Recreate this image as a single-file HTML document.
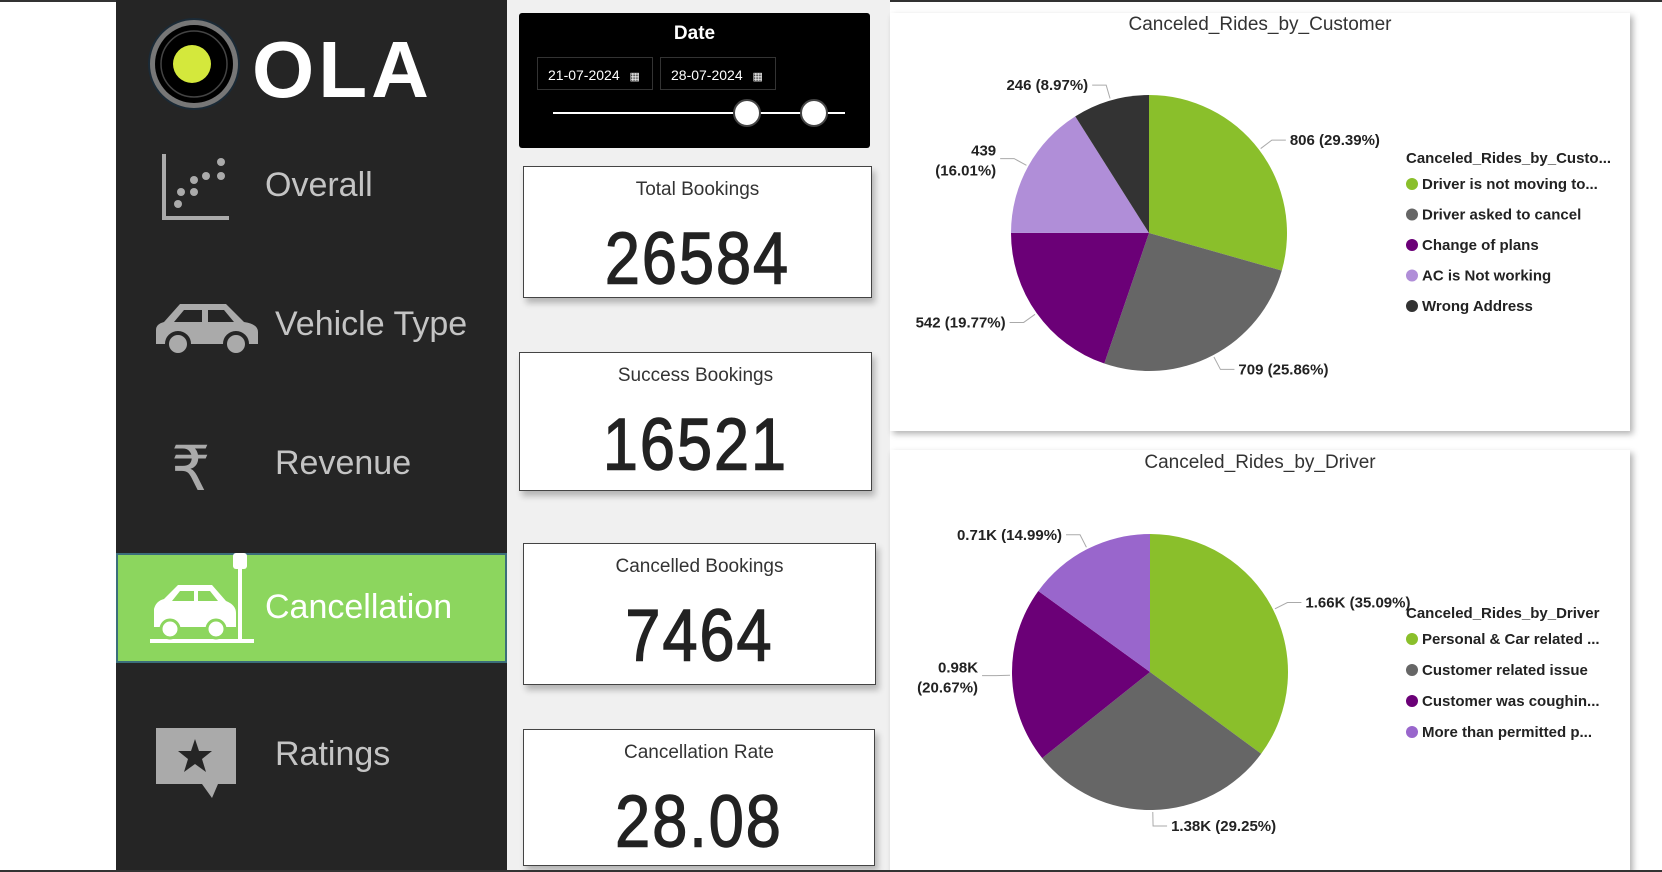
<!DOCTYPE html>
<html><head><meta charset="utf-8">
<style>
*{margin:0;padding:0;box-sizing:border-box}
body{width:1662px;height:872px;background:#fff;font-family:"Liberation Sans",sans-serif;position:relative;overflow:hidden}
.abs{position:absolute}
#sidebar{left:116px;top:0;width:391px;height:872px;background:#252525}
.nav{position:absolute;color:#c4c4c4;font-size:34px;white-space:nowrap}
#mid{left:507px;top:0;width:383px;height:872px;background:#f0f0f0}
.card{position:absolute;background:#fff;border:1px solid #444;box-shadow:3px 5px 6px rgba(0,0,0,.25);text-align:center}
.card .t{font-size:19px;color:#333;margin-top:12px}
.card .v{display:inline-block;font-size:63px;color:#222;letter-spacing:2px;margin-top:22px;transform:scaleY(1.17);-webkit-text-stroke:1.2px #222}
.chartcard{position:absolute;left:890px;width:740px;background:#fff;box-shadow:3px 3px 6px rgba(0,0,0,.3)}
.ctitle{position:absolute;width:100%;text-align:center;font-size:19px;color:#333}
</style></head><body>
<div class="abs" style="left:0;top:0;width:1662px;height:2px;background:#333"></div>
<div id="sidebar" class="abs">
  <svg class="abs" style="left:32px;top:18px" width="96" height="96">
    <circle cx="46" cy="46" r="45" fill="#777" stroke="#1b2a36" stroke-width="2"/>
    <circle cx="46" cy="46" r="39" fill="#000"/>
    <circle cx="46" cy="46" r="33" fill="none" stroke="#444" stroke-width="1.5"/>
    <circle cx="44" cy="46" r="19" fill="#d4e83c"/>
  </svg>
  <div class="abs" style="left:136px;top:24px;font-size:80px;font-weight:bold;color:#fff;letter-spacing:4px">OLA</div>

  <svg class="abs" style="left:45px;top:152px" width="70" height="70">
    <path d="M3 2V66H68" fill="none" stroke="#aaa" stroke-width="4"/>
    <g fill="#aaa"><circle cx="17" cy="52" r="4"/><circle cx="20" cy="40" r="4"/><circle cx="33" cy="40" r="4"/><circle cx="33" cy="28" r="4"/><circle cx="45" cy="24" r="4"/><circle cx="60" cy="24" r="4"/><circle cx="60" cy="10" r="4"/></g>
  </svg>
  <div class="nav" style="left:149px;top:166px">Overall</div>

  <svg class="abs" style="left:36px;top:300px" width="110" height="58">
    <path d="M4 44V30Q4 24 12 22L28 4H74L92 22Q106 24 106 32V44Z" fill="#aaa"/>
    <path d="M32 10H50V22H22Z M56 10H72L82 22H56Z" fill="#252525"/>
    <circle cx="26" cy="44" r="11" fill="#aaa" stroke="#252525" stroke-width="4"/>
    <circle cx="84" cy="44" r="11" fill="#aaa" stroke="#252525" stroke-width="4"/>
  </svg>
  <div class="nav" style="left:159px;top:305px">Vehicle Type</div>

  <div class="abs" style="left:55px;top:432px;font-size:62px;color:#aaa">₹</div>
  <div class="nav" style="left:159px;top:444px">Revenue</div>

  <div class="abs" style="left:0;top:553px;width:391px;height:110px;background:#8cd65e;border:2px solid #3b6e7a">
    <svg class="abs" style="left:32px;top:-4px" width="110" height="108">
      <rect x="0" y="88" width="104" height="4" fill="#fff"/>
      <rect x="88" y="14" width="4" height="76" fill="#fff"/>
      <rect x="83" y="2" width="14" height="16" rx="3" fill="#fff"/>
      <path d="M4 76V58Q6 50 14 48L28 34H62L76 50Q86 54 86 62V76Z" fill="#fff"/>
      <circle cx="20" cy="78" r="9" fill="#fff" stroke="#8cd65e" stroke-width="3"/>
      <circle cx="66" cy="78" r="9" fill="#fff" stroke="#8cd65e" stroke-width="3"/>
      <path d="M30 40H44V50H22Z M48 40H60L68 50H48Z" fill="#8cd65e"/>
    </svg>
    <div class="nav" style="left:147px;top:33px;color:#fff">Cancellation</div>
  </div>

  <svg class="abs" style="left:38px;top:726px" width="84" height="74">
    <path d="M2 2H82V58H64L58 72L48 58H2Z" fill="#aaa"/>
    <polygon points="41,13 45,25 58,25 48,33 52,46 41,38 30,46 34,33 24,25 37,25" fill="#252525"/>
  </svg>
  <div class="nav" style="left:159px;top:735px">Ratings</div>
</div>

<div id="mid" class="abs"></div>

<div class="abs" style="left:519px;top:13px;width:351px;height:135px;background:#000;border-radius:3px">
  <div class="abs" style="width:100%;text-align:center;top:10px;color:#fff;font-size:19px;font-weight:bold">Date</div>
  <div class="abs" style="left:18px;top:44px;width:116px;height:33px;border:1px solid #333;color:#fff;font-size:14px;padding:9px 0 0 10px">21-07-2024 <span style="font-size:11px;margin-left:6px">▦</span></div>
  <div class="abs" style="left:141px;top:44px;width:116px;height:33px;border:1px solid #333;color:#fff;font-size:14px;padding:9px 0 0 10px">28-07-2024 <span style="font-size:11px;margin-left:6px">▦</span></div>
  <div class="abs" style="left:34px;top:99px;width:292px;height:2px;background:#fff"></div>
  <div class="abs" style="left:214px;top:86px;width:28px;height:28px;border-radius:50%;background:#fff;border:2px solid #444"></div>
  <div class="abs" style="left:281px;top:86px;width:28px;height:28px;border-radius:50%;background:#fff;border:2px solid #444"></div>
</div>

<div class="card" style="left:523px;top:166px;width:349px;height:132px"><div class="t">Total Bookings</div><div class="v">26584</div></div>
<div class="card" style="left:519px;top:352px;width:353px;height:139px"><div class="t">Success Bookings</div><div class="v">16521</div></div>
<div class="card" style="left:523px;top:543px;width:353px;height:142px"><div class="t">Cancelled Bookings</div><div class="v">7464</div></div>
<div class="card" style="left:523px;top:729px;width:352px;height:137px"><div class="t">Cancellation Rate</div><div class="v">28.08</div></div>

<div class="chartcard" style="top:13px;height:418px">
  <div class="ctitle" style="top:1px">Canceled_Rides_by_Customer</div>
  <svg id="pie1" width="740" height="418" class="abs" style="left:0;top:0"></svg>
</div>
<div class="chartcard" style="top:450px;height:422px">
  <div class="ctitle" style="top:2px">Canceled_Rides_by_Driver</div>
  <svg id="pie2" width="740" height="422" class="abs" style="left:0;top:0"></svg>
</div>
<div class="abs" style="left:0;top:870px;width:1662px;height:2px;background:#333"></div>

<script>
const custCategories=["Driver is not moving to...","Driver asked to cancel","Change of plans","AC is Not working","Wrong Address"];
const custValues=[806,709,542,439,246];
const custValueLabels=["806","709","542","439","246"];
const custPctLabels=["(29.39%)","(25.86%)","(19.77%)","(16.01%)","(8.97%)"];
const custColors=["#8abf2b","#666666","#6b0077","#b08ed8","#333333"];
const drvCategories=["Personal & Car related ...","Customer related issue","Customer was coughin...","More than permitted p..."];
const drvValues=[1660,1380,980,710];
const drvValueLabels=["1.66K","1.38K","0.98K","0.71K"];
const drvPctLabels=["(35.09%)","(29.25%)","(20.67%)","(14.99%)"];
const drvColors=["#8abf2b","#666666","#6b0077","#9966cc"];
const NS="http://www.w3.org/2000/svg";
function mk(svg,tag,attrs){const e=document.createElementNS(NS,tag);for(const k in attrs)e.setAttribute(k,attrs[k]);svg.appendChild(e);return e;}
function drawPie(id,cats,vals,vl,pl,colors,cx,cy,r,legTitle,legX,legY,legGap){
  const svg=document.getElementById(id);
  const total=vals.reduce((a,b)=>a+b,0);
  let a0=0;
  vals.forEach((v,i)=>{
    const a1=a0+v/total*2*Math.PI;
    const p=(a)=>[cx+r*Math.sin(a),cy-r*Math.cos(a)];
    const [x0,y0]=p(a0),[x1,y1]=p(a1);
    const large=(a1-a0)>Math.PI?1:0;
    const s=mk(svg,'path',{d:`M${cx},${cy}L${x0},${y0}A${r},${r} 0 ${large} 1 ${x1},${y1}Z`,fill:colors[i]});
    
    
    const am=(a0+a1)/2, sx=Math.sin(am), sy=-Math.cos(am);
    const xa=cx+(r+2)*sx, ya=cy+(r+2)*sy, xb=cx+(r+16)*sx, yb=cy+(r+16)*sy;
    const dir=sx>=0?1:-1, xc=xb+dir*14;
    const ln=mk(svg,'polyline',{points:`${xa},${ya} ${xb},${yb} ${xc},${yb}`,fill:'none',stroke:'#aaa','stroke-width':1});
    
    
    const two=sx<-0.85;
    const attrs={x:xc+dir*4,y:two?yb-3:yb+5,'text-anchor':dir>0?'start':'end','font-size':15,'font-weight':'bold',fill:'#222','font-family':'Liberation Sans, sans-serif'};
    const t=mk(svg,'text',attrs);
    
    
    if(two){
      const s1=mk(t,'tspan',{x:attrs.x}); s1.textContent=vl[i];
      const s2=mk(t,'tspan',{x:attrs.x,dy:20}); s2.textContent=pl[i];
    } else t.textContent=vl[i]+' '+pl[i];
    a0=a1;
  });
  const lt=mk(svg,'text',{x:legX,y:legY,'font-size':15,'font-weight':'bold',fill:'#222','font-family':'Liberation Sans, sans-serif'});
  lt.textContent=legTitle;
  
  
  cats.forEach((c,i)=>{
    const y=legY+26+i*legGap;
    const d=mk(svg,'circle',{cx:legX+6,cy:y-5,r:6,fill:colors[i]});
    
    
    const tx=mk(svg,'text',{x:legX+16,y:y,'font-size':15,'font-weight':'bold',fill:'#222','font-family':'Liberation Sans, sans-serif'});
    tx.textContent=c;
    
    
  });
}
drawPie('pie1',custCategories,custValues,custValueLabels,custPctLabels,custColors,259,220,138,"Canceled_Rides_by_Custo...",516,150,30.5);
drawPie('pie2',drvCategories,drvValues,drvValueLabels,drvPctLabels,drvColors,260,222,138,"Canceled_Rides_by_Driver",516,168,31);
</script>
</body></html>
